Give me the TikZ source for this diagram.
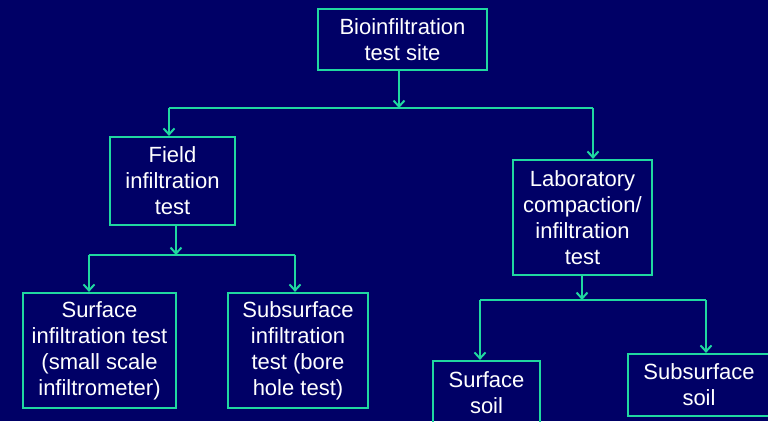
\documentclass[tikz,border=0pt]{standalone}
\usepackage{fontspec}
\setmainfont{Liberation Sans}
\usetikzlibrary{arrows.meta}
\definecolor{bg}{RGB}{0,0,102}
\definecolor{ln}{RGB}{32,216,160}
\begin{document}
\begin{tikzpicture}[x=1pt,y=-1pt,
  box/.style={draw=ln,line width=2.2pt,text=white,align=center,inner sep=0pt,
    font=\fontsize{22}{26}\selectfont},
  conn/.style={draw=ln,line width=2.2pt},
  arr/.style={conn,-{Straight Barb[length=6pt,width=11pt,line width=2pt]}}]
\useasboundingbox (0,0) rectangle (768,421);
\fill[bg] (0,0) rectangle (768,421);
\begin{scope}
\clip (0,0) rectangle (768,421);
\node[box,minimum width=169pt,minimum height=61pt] (top) at (402.5,39.5) {Bioinfiltration\\test site};
\node[box,minimum width=125pt,minimum height=88pt] (field) at (172.5,181) {Field\\infiltration\\test};
\node[box,minimum width=139pt,minimum height=115pt] (lab) at (582.5,217.5) {Laboratory\\compaction/\\infiltration\\test};
\node[box,minimum width=153pt,minimum height=115pt] (sit) at (99.5,350.5) {Surface\\infiltration test\\(small scale\\infiltrometer)};
\node[box,minimum width=140pt,minimum height=115pt] (ssit) at (298,350.5) {Subsurface\\infiltration\\test (bore\\hole test)};
\node[box,minimum width=107pt,minimum height=64pt] (ss) at (486.5,393) {Surface\\soil};
\node[box,minimum width=142pt,minimum height=62pt] (sss) at (699,385) {Subsurface\\soil};
\end{scope}
\coordinate (j1) at (399,108);
\coordinate (j1l) at (169,108);
\coordinate (j1r) at (593,108);
\coordinate (j2) at (176,255);
\coordinate (j2l) at (89,255);
\coordinate (j2r) at (295,255);
\coordinate (j3) at (582,300);
\coordinate (j3l) at (480,300);
\coordinate (j3r) at (706,300);
\draw[arr] (j1 |- top.south) -- (j1);
\draw[conn] (j1l) -- (j1r);
\draw[arr] (j1l) -- (j1l |- field.north);
\draw[arr] (j1r) -- (j1r |- lab.north);
\draw[arr] (j2 |- field.south) -- (j2);
\draw[conn] (j2l) -- (j2r);
\draw[arr] (j2l) -- (j2l |- sit.north);
\draw[arr] (j2r) -- (j2r |- ssit.north);
\draw[arr] (j3 |- lab.south) -- (j3);
\draw[conn] (j3l) -- (j3r);
\draw[arr] (j3l) -- (j3l |- ss.north);
\draw[arr] (j3r) -- (j3r |- sss.north);
\end{tikzpicture}
\end{document}
